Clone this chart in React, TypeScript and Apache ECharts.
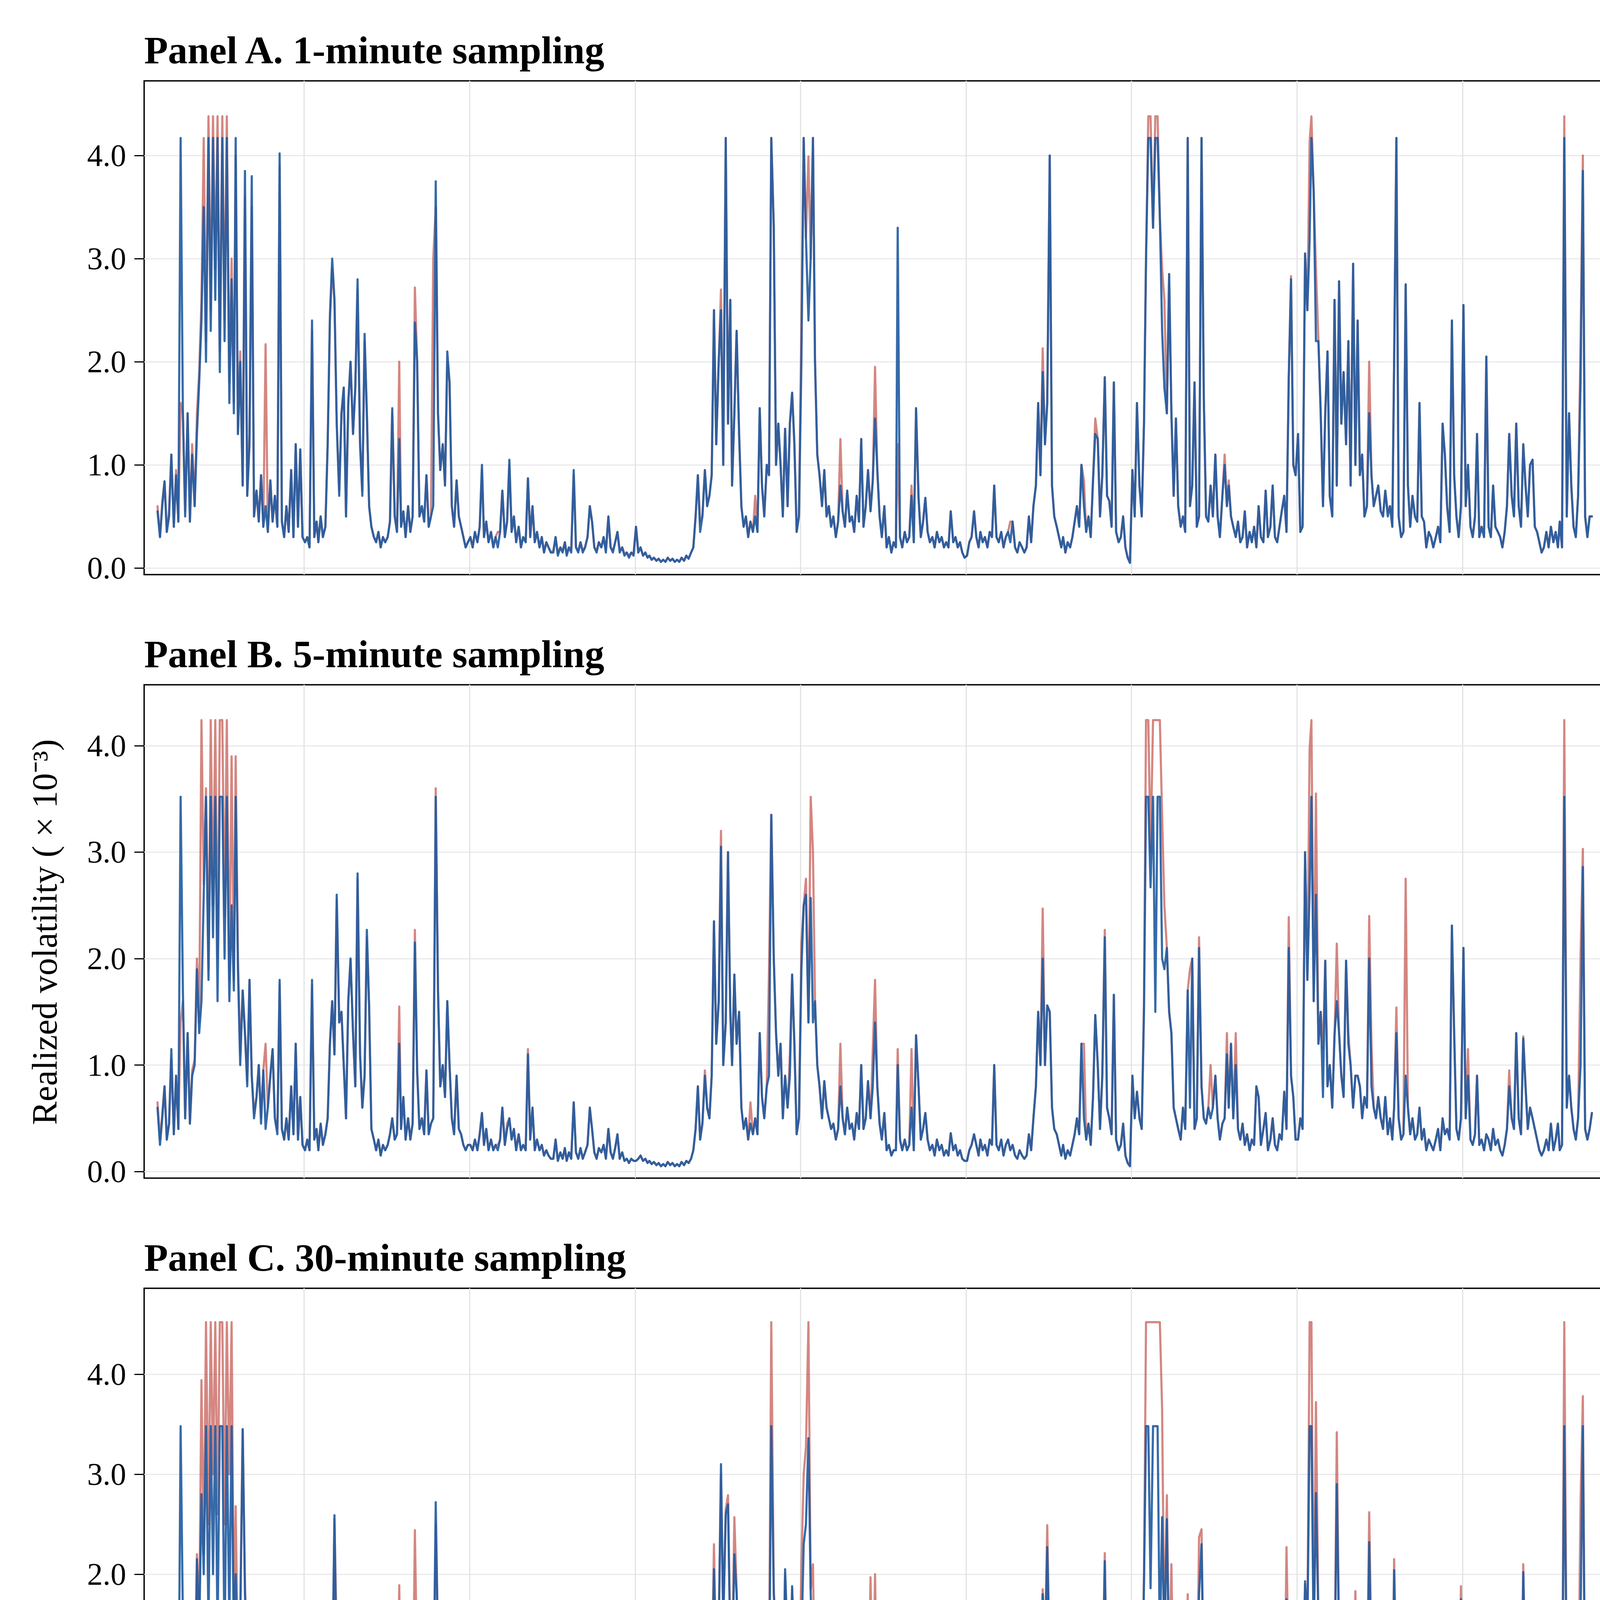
import React, { useEffect, useRef } from "react";
import * as echarts from "echarts";

const DEKAD_DAYS = [5, 15, 25];
const FIRST_YEAR = 2008;
const FIRST_DEKAD = 8; // 25 March 2008

// ---------- Panel A: 1-minute sampling ----------
const etf1m: number[][] = [
  [0.55,0.3,0.6,0.84,0.35,0.5,1.1,0.4,0.9,0.45, 4.17,1.5,0.5,1.5,0.45,1.1,0.6,1.3,1.8,2.4, 3.5,2.0,4.17,2.3,4.17,2.6,4.17,1.9],
  [4.17,2.2,4.17,1.6,2.8,1.5,4.17,1.3,2.0,0.8, 3.85,0.7,1.2,3.8,0.5,0.75,0.45,0.9,0.4,0.6, 0.35,0.85,0.45,0.7,0.4,4.02,0.45,0.3,0.6,0.35, 0.95,0.3,1.2,0.4,1.15,0.3],
  [0.25,0.3,0.2,2.4,0.3,0.45,0.25,0.5,0.3,0.4, 1.2,2.45,3.0,2.6,1.4,0.7,1.5,1.75,0.5,1.6, 2.0,1.3,1.75,2.8,1.2,0.7,2.27,1.5,0.6,0.4, 0.3,0.25,0.35,0.2,0.3,0.25],
  [0.3,0.45,1.55,0.5,0.35,1.25,0.4,0.55,0.3,0.6, 0.35,0.5,2.38,2.0,0.5,0.6,0.45,0.9,0.4,0.5, 0.6,3.75,1.5,0.95,1.2,0.8,2.1,1.8,0.6,0.4, 0.85,0.5,0.4,0.3,0.2,0.25],
  [0.3,0.2,0.35,0.25,0.4,1.0,0.3,0.45,0.25,0.35, 0.2,0.3,0.2,0.35,0.75,0.3,0.45,1.05,0.35,0.5, 0.25,0.4,0.2,0.3,0.25,0.87,0.3,0.6,0.25,0.35, 0.2,0.3,0.15,0.25,0.2,0.15],
  [0.15,0.3,0.12,0.2,0.15,0.25,0.12,0.2,0.15,0.95, 0.2,0.15,0.25,0.15,0.2,0.3,0.6,0.45,0.2,0.15, 0.25,0.2,0.3,0.15,0.5,0.2,0.15,0.25,0.35,0.15, 0.2,0.12,0.15,0.1,0.15,0.12],
  [0.4,0.15,0.2,0.12,0.15,0.1,0.12,0.08,0.1,0.07, 0.09,0.06,0.08,0.06,0.1,0.07,0.09,0.06,0.08,0.06, 0.1,0.07,0.12,0.09,0.15,0.2,0.5,0.9,0.35,0.5, 0.95,0.6,0.7,0.9,2.5,1.2],
  [2.0,2.5,1.0,4.17,1.4,2.6,0.8,1.5,2.3,1.3, 0.6,0.4,0.5,0.3,0.45,0.35,0.5,0.35,1.55,0.8, 0.5,1.0,0.9,4.17,3.3,1.0,1.4,1.0,0.5,1.35, 0.6,1.4,1.7,1.2,0.35,0.5],
  [2.0,4.17,3.2,2.4,3.0,4.17,2.0,1.1,0.9,0.6, 0.95,0.5,0.6,0.4,0.5,0.3,0.45,0.8,0.55,0.4, 0.75,0.45,0.5,0.35,0.7,0.45,1.25,0.4,0.6,0.95, 0.55,0.85,1.45,0.95,0.5,0.3],
  [0.6,0.2,0.3,0.15,0.25,0.2,3.3,0.3,0.2,0.35, 0.25,0.3,0.7,0.25,1.55,0.68,0.3,0.45,0.68,0.35, 0.25,0.3,0.2,0.35,0.25,0.3,0.2,0.25,0.2,0.55, 0.25,0.3,0.2,0.25,0.15,0.1],
  [0.12,0.25,0.3,0.55,0.3,0.2,0.35,0.25,0.3,0.2, 0.35,0.3,0.8,0.3,0.25,0.35,0.2,0.3,0.35,0.25, 0.45,0.2,0.15,0.25,0.2,0.15,0.2,0.5,0.25,0.6, 0.8,1.6,0.9,1.9,1.2,1.6],
  [4.0,0.8,0.5,0.4,0.3,0.2,0.3,0.15,0.25,0.2, 0.3,0.45,0.6,0.4,1.0,0.6,0.35,0.5,0.3,0.85, 1.3,1.25,0.5,0.9,1.85,0.7,0.65,0.4,1.8,0.35, 0.25,0.3,0.5,0.2,0.1,0.05],
  [0.95,0.5,1.6,0.8,0.5,1.4,3.0,4.17,4.17,3.3, 4.17,4.17,3.4,2.3,1.75,1.5,2.85,1.5,0.7,1.45, 0.6,0.4,0.5,0.35,4.17,0.6,0.8,1.8,0.4,0.5, 4.17,1.65,0.5,0.45,0.8,0.5],
  [1.1,0.5,0.3,0.7,1.0,0.6,0.8,0.5,0.4,0.3, 0.45,0.25,0.3,0.55,0.2,0.35,0.25,0.4,0.2,0.6, 0.3,0.25,0.75,0.3,0.4,0.8,0.3,0.25,0.4,0.55, 0.7,0.35,1.85,2.8,1.0,0.9],
  [1.3,0.35,0.4,3.05,2.5,3.18,4.17,3.65,2.2,2.2, 1.5,0.6,1.5,2.1,0.7,0.5,2.6,0.8,2.78,1.4, 1.9,1.2,2.2,0.8,2.95,1.0,2.4,0.9,1.1,0.5, 0.6,1.5,0.9,0.6,0.7,0.8],
  [0.55,0.5,0.75,0.5,0.6,0.4,2.0,4.17,0.5,0.3, 0.35,2.75,0.8,0.4,0.7,0.5,0.45,1.6,0.5,0.45, 0.2,0.35,0.3,0.2,0.3,0.4,0.25,1.4,1.1,0.6, 0.35,2.4,0.9,0.5,0.3,0.6],
  [2.55,0.6,1.0,0.4,0.3,0.5,1.3,0.3,0.4,0.3, 2.05,0.4,0.3,0.8,0.4,0.35,0.3,0.2,0.35,0.6, 1.3,0.7,0.5,1.4,0.6,0.4,1.2,0.8,0.5,1.0, 1.05,0.4,0.35,0.25,0.15,0.2],
  [0.35,0.2,0.4,0.25,0.35,0.2,0.45,0.2,4.17,0.5, 1.5,0.8,0.4,0.3,0.7,1.8,3.85,0.5,0.3,0.5, 0.5],
];
const inav1m: number[][] = [
  [0.6,0.3,0.65,0.84,0.35,0.55,1.1,0.4,0.95,0.45, 1.6,1.5,0.55,1.5,0.45,1.2,0.6,1.5,1.9,2.6, 4.17,2.2,4.38,2.5,4.38,2.9,4.38,2.1],
  [4.38,2.4,4.38,1.8,3.0,1.6,4.0,1.3,2.1,0.8, 3.6,0.7,1.3,3.5,0.5,0.75,0.45,0.9,0.4,2.17, 0.35,0.85,0.45,0.7,0.4,3.9,0.45,0.3,0.6,0.35, 0.95,0.3,1.2,0.4,1.15,0.3],
  [0.25,0.3,0.2,2.3,0.3,0.45,0.25,0.5,0.3,0.4, 1.2,2.4,2.9,2.6,1.4,0.75,1.5,1.75,0.5,1.6, 2.0,1.3,1.75,2.7,1.2,0.75,2.2,1.5,0.6,0.4, 0.3,0.25,0.35,0.2,0.3,0.25],
  [0.3,0.45,1.5,0.5,0.35,2.0,0.4,0.55,0.3,0.6, 0.35,0.5,2.72,2.0,0.5,0.6,0.45,0.9,0.4,0.5, 3.0,3.5,1.5,0.95,1.2,0.8,2.0,1.8,0.6,0.4, 0.85,0.5,0.4,0.3,0.2,0.25],
  [0.3,0.2,0.35,0.25,0.4,0.95,0.3,0.45,0.25,0.35, 0.2,0.3,0.35,0.35,0.75,0.3,0.45,1.0,0.35,0.5, 0.25,0.4,0.2,0.3,0.25,0.87,0.3,0.6,0.25,0.35, 0.2,0.3,0.15,0.25,0.2,0.15],
  [0.17,0.3,0.14,0.2,0.17,0.25,0.14,0.2,0.17,0.9, 0.2,0.17,0.25,0.17,0.2,0.3,0.6,0.45,0.2,0.17, 0.25,0.2,0.3,0.17,0.5,0.2,0.17,0.25,0.35,0.17, 0.2,0.14,0.15,0.12,0.15,0.14],
  [0.4,0.15,0.2,0.12,0.15,0.1,0.12,0.08,0.1,0.07, 0.09,0.06,0.08,0.06,0.1,0.07,0.09,0.06,0.08,0.06, 0.1,0.07,0.12,0.09,0.15,0.2,0.5,0.9,0.45,0.5, 0.95,0.6,0.7,0.9,2.5,1.2],
  [2.0,2.7,1.0,4.17,1.4,2.6,0.8,1.5,2.3,1.3, 0.6,0.4,0.5,0.3,0.45,0.35,0.7,0.35,1.55,0.8, 0.5,1.0,0.9,4.17,3.3,1.0,1.4,1.0,0.5,1.35, 0.6,1.4,1.7,1.2,0.35,0.5],
  [2.4,4.17,3.2,3.99,3.0,4.17,2.0,1.1,0.9,0.6, 0.95,0.5,0.6,0.4,0.5,0.3,0.45,1.25,0.55,0.4, 0.75,0.45,0.5,0.35,0.7,0.45,1.25,0.4,0.6,0.95, 0.55,0.85,1.95,0.95,0.5,0.3],
  [0.6,0.2,0.3,0.15,0.25,0.2,1.2,0.3,0.2,0.35, 0.25,0.3,0.8,0.25,1.55,0.68,0.3,0.45,0.68,0.35, 0.25,0.3,0.2,0.35,0.25,0.3,0.2,0.25,0.2,0.55, 0.25,0.3,0.2,0.25,0.15,0.1],
  [0.12,0.25,0.3,0.55,0.3,0.2,0.35,0.25,0.3,0.2, 0.35,0.3,0.8,0.3,0.25,0.35,0.2,0.3,0.35,0.45, 0.45,0.2,0.15,0.25,0.2,0.15,0.2,0.5,0.25,0.6, 0.8,1.6,0.9,2.13,1.2,1.6],
  [4.0,0.8,0.5,0.4,0.3,0.2,0.3,0.15,0.25,0.2, 0.3,0.45,0.6,0.4,1.0,0.85,0.35,0.5,0.3,0.85, 1.45,1.25,0.5,0.9,1.85,0.7,0.65,0.4,1.8,0.35, 0.25,0.3,0.5,0.2,0.1,0.05],
  [0.95,0.5,1.6,0.8,0.5,1.4,3.0,4.38,4.38,3.3, 4.38,4.38,3.4,2.9,2.6,1.5,2.85,1.5,0.7,1.45, 0.6,0.4,0.5,0.35,4.17,0.6,0.8,1.8,0.4,0.5, 4.17,1.65,0.5,0.45,0.8,0.5],
  [1.1,0.5,0.3,0.7,1.1,0.6,0.85,0.5,0.4,0.3, 0.45,0.25,0.3,0.55,0.2,0.35,0.25,0.4,0.2,0.6, 0.3,0.25,0.75,0.3,0.4,0.8,0.3,0.25,0.4,0.55, 0.7,0.35,1.85,2.83,1.0,0.9],
  [1.3,0.35,0.4,3.05,2.5,4.13,4.38,3.65,2.9,2.2, 1.5,0.6,1.5,2.1,0.7,0.5,2.6,0.8,2.78,1.4, 1.9,1.2,2.2,0.8,2.95,1.0,2.4,0.9,1.1,0.5, 0.6,2.0,0.9,0.6,0.7,0.8],
  [0.55,0.5,0.75,0.55,0.6,0.4,2.0,4.17,0.5,0.3, 0.35,2.75,0.8,0.4,0.7,0.5,0.45,1.6,0.5,0.45, 0.2,0.35,0.3,0.2,0.3,0.4,0.25,1.4,1.1,0.6, 0.35,2.4,0.9,0.5,0.3,0.6],
  [2.55,0.6,1.0,0.4,0.3,0.5,1.3,0.3,0.4,0.3, 2.05,0.4,0.3,0.8,0.4,0.35,0.3,0.2,0.35,0.6, 1.3,0.7,0.5,1.4,0.6,0.4,1.2,0.8,0.5,1.0, 1.05,0.4,0.35,0.25,0.15,0.2],
  [0.35,0.2,0.4,0.25,0.35,0.2,0.45,0.2,4.38,0.5, 1.5,0.8,0.4,0.3,0.7,2.2,4.0,0.5,0.3,0.5, 0.5],
];

// ---------- Panel B: 5-minute sampling ----------
const etf5m: number[][] = [
  [0.6,0.25,0.5,0.8,0.3,0.45,1.15,0.35,0.9,0.4, 3.52,1.7,0.5,1.3,0.45,0.9,1.0,1.9,1.3,1.6, 2.6,3.52,1.8,3.52,2.2,3.52,1.6,3.52],
  [3.52,2.0,3.52,1.6,2.5,1.7,3.52,1.9,1.0,1.7, 1.3,0.8,1.8,0.9,0.5,0.7,1.0,0.45,0.95,0.4, 0.6,0.9,1.15,0.5,0.35,1.8,0.4,0.3,0.5,0.3, 0.8,0.35,1.2,0.3,0.7,0.25],
  [0.2,0.3,0.2,1.8,0.3,0.4,0.2,0.45,0.25,0.35, 0.5,1.2,1.6,1.1,2.6,1.4,1.5,1.0,0.5,1.6, 2.0,1.3,0.8,2.8,1.1,0.6,0.9,2.27,1.55,0.4, 0.3,0.2,0.3,0.15,0.25,0.2],
  [0.25,0.35,0.5,0.3,0.35,1.2,0.4,0.7,0.3,0.5, 0.3,0.45,2.15,0.95,0.4,0.5,0.35,0.95,0.35,0.45, 0.5,3.52,1.7,0.8,1.0,0.7,1.6,1.0,0.5,0.35, 0.9,0.4,0.35,0.25,0.2,0.25],
  [0.25,0.2,0.3,0.2,0.35,0.55,0.25,0.4,0.2,0.3, 0.2,0.25,0.2,0.3,0.6,0.25,0.4,0.5,0.3,0.4, 0.2,0.35,0.2,0.25,0.2,1.1,0.3,0.6,0.2,0.3, 0.2,0.25,0.15,0.2,0.15,0.12],
  [0.12,0.3,0.1,0.18,0.12,0.22,0.1,0.18,0.12,0.65, 0.18,0.12,0.22,0.12,0.18,0.25,0.6,0.4,0.18,0.12, 0.22,0.18,0.25,0.12,0.4,0.18,0.12,0.22,0.35,0.12, 0.18,0.1,0.12,0.08,0.12,0.1],
  [0.1,0.12,0.15,0.1,0.12,0.08,0.1,0.07,0.09,0.06, 0.08,0.05,0.07,0.05,0.09,0.06,0.08,0.05,0.07,0.05, 0.09,0.06,0.1,0.08,0.12,0.2,0.4,0.8,0.3,0.45, 0.9,0.6,0.5,0.9,2.35,1.2],
  [1.6,3.05,1.0,1.4,3.0,1.5,1.0,1.85,1.2,1.5, 0.6,0.4,0.5,0.3,0.45,0.35,0.5,0.35,1.3,0.7, 0.5,0.8,0.9,3.35,2.0,1.3,0.9,1.2,0.5,0.9, 0.6,0.9,1.85,1.2,0.35,0.5],
  [1.9,2.5,2.6,1.4,2.57,1.4,1.6,1.0,0.8,0.5, 0.85,0.6,0.5,0.4,0.45,0.3,0.4,0.8,0.5,0.35, 0.6,0.4,0.45,0.3,0.55,0.4,1.0,0.4,0.5,0.85, 0.5,0.8,1.4,0.8,0.45,0.3],
  [0.55,0.2,0.25,0.15,0.2,0.2,1.0,0.3,0.2,0.3, 0.2,0.25,0.6,0.2,1.28,0.8,0.3,0.4,0.55,0.3, 0.2,0.25,0.15,0.3,0.2,0.25,0.15,0.2,0.15,0.36, 0.2,0.25,0.15,0.2,0.12,0.1],
  [0.1,0.2,0.25,0.35,0.25,0.15,0.3,0.2,0.25,0.15, 0.3,0.25,1.0,0.25,0.2,0.3,0.15,0.25,0.3,0.2, 0.25,0.15,0.12,0.2,0.15,0.12,0.15,0.35,0.2,0.5, 0.8,1.5,1.0,2.0,1.0,1.56],
  [1.5,0.6,0.4,0.35,0.25,0.15,0.25,0.12,0.2,0.15, 0.25,0.35,0.5,0.35,1.2,0.5,0.3,0.45,0.25,0.7, 1.47,1.0,0.4,0.9,2.2,0.6,0.5,0.35,1.66,0.3, 0.2,0.25,0.45,0.15,0.08,0.05],
  [0.9,0.5,0.75,0.5,0.4,1.5,3.52,3.52,2.67,3.52, 1.5,3.52,3.52,2.0,1.9,2.1,1.5,1.3,0.6,0.5, 0.4,0.3,0.6,0.4,1.7,0.6,2.0,0.4,0.5,2.1, 0.8,0.5,0.45,0.6,0.5,0.6],
  [0.9,0.5,0.3,0.45,0.5,1.1,0.6,1.2,0.5,1.0, 0.4,0.3,0.45,0.25,0.35,0.2,0.3,0.25,0.8,0.7, 0.25,0.4,0.55,0.2,0.3,0.5,0.25,0.2,0.35,0.3, 0.75,0.4,2.1,0.9,0.7,0.3],
  [0.3,0.5,0.4,3.0,1.8,2.63,3.52,1.6,2.6,1.2, 1.5,0.7,1.98,0.8,1.0,0.6,1.28,1.6,1.3,0.9, 0.7,1.98,1.2,1.0,0.6,0.9,0.9,0.8,0.5,0.7, 0.6,2.0,0.8,0.6,0.5,0.7],
  [0.5,0.4,0.7,0.35,0.5,0.3,0.6,1.3,0.5,0.3, 0.35,0.9,0.6,0.35,0.5,0.3,0.35,0.6,0.3,0.4, 0.2,0.3,0.25,0.2,0.3,0.4,0.2,0.5,0.35,0.4, 0.3,2.31,1.3,0.4,0.3,0.5],
  [2.1,0.5,0.9,0.3,0.25,0.35,0.9,0.25,0.3,0.2, 0.35,0.3,0.2,0.4,0.25,0.3,0.2,0.15,0.25,0.4, 0.8,0.5,0.4,1.3,0.5,0.35,1.25,0.8,0.4,0.6, 0.5,0.4,0.3,0.2,0.15,0.2],
  [0.3,0.2,0.45,0.2,0.3,0.45,0.2,0.25,3.52,0.6, 0.9,0.6,0.4,0.3,0.5,1.0,2.86,0.4,0.3,0.4, 0.55],
];
const inav5m: number[][] = [
  [0.65,0.3,0.55,0.8,0.3,0.45,1.05,0.35,0.9,0.4, 1.4,1.6,0.5,1.3,0.45,0.95,1.05,2.0,1.4,4.24, 2.7,3.6,1.9,4.24,2.5,4.24,2.0,4.24],
  [4.24,2.4,4.24,1.8,3.9,1.8,3.9,2.0,1.1,1.7, 1.3,0.85,1.8,0.9,0.55,0.7,1.0,0.5,0.95,1.2, 0.6,0.9,1.15,0.5,0.4,1.75,0.4,0.3,0.5,0.3, 0.8,0.35,1.2,0.3,0.7,0.25],
  [0.2,0.3,0.2,1.75,0.3,0.4,0.2,0.45,0.25,0.35, 0.5,1.2,1.6,1.1,2.55,1.4,1.5,1.0,0.5,1.6, 2.0,1.3,0.8,2.75,1.1,0.6,0.9,2.2,1.55,0.4, 0.3,0.2,0.3,0.15,0.25,0.2],
  [0.25,0.35,0.5,0.3,0.35,1.55,0.4,0.7,0.3,0.5, 0.3,0.45,2.27,0.95,0.4,0.5,0.35,0.95,0.35,0.45, 0.5,3.6,1.7,0.8,1.0,0.7,1.6,1.0,0.5,0.35, 0.9,0.4,0.35,0.25,0.2,0.25],
  [0.25,0.2,0.3,0.2,0.35,0.55,0.25,0.4,0.2,0.3, 0.2,0.25,0.25,0.3,0.6,0.25,0.45,0.5,0.3,0.4, 0.2,0.35,0.2,0.25,0.2,1.15,0.3,0.6,0.2,0.3, 0.2,0.25,0.15,0.2,0.15,0.12],
  [0.12,0.3,0.1,0.18,0.12,0.22,0.1,0.18,0.12,0.65, 0.18,0.12,0.22,0.12,0.18,0.25,0.6,0.4,0.18,0.12, 0.22,0.18,0.25,0.12,0.4,0.18,0.12,0.22,0.35,0.12, 0.18,0.1,0.12,0.08,0.12,0.1],
  [0.1,0.12,0.15,0.1,0.12,0.08,0.1,0.07,0.09,0.06, 0.08,0.05,0.07,0.05,0.09,0.06,0.08,0.05,0.07,0.05, 0.09,0.06,0.1,0.08,0.12,0.2,0.4,0.8,0.3,0.45, 0.95,0.6,0.5,0.9,2.35,1.2],
  [1.6,3.2,1.0,1.4,3.0,1.5,1.0,1.85,1.2,1.5, 0.6,0.4,0.5,0.3,0.65,0.35,0.5,0.35,1.3,0.7, 0.5,0.8,1.9,3.35,2.0,1.3,0.9,1.2,0.5,0.9, 0.6,1.1,1.85,1.2,0.35,0.5],
  [2.15,2.5,2.75,1.4,3.52,3.0,1.6,1.0,0.8,0.5, 0.85,0.6,0.5,0.4,0.45,0.3,0.4,1.2,0.5,0.35, 0.6,0.4,0.45,0.3,0.55,0.4,1.0,0.4,0.5,0.85, 0.5,1.15,1.8,0.8,0.45,0.3],
  [0.55,0.2,0.25,0.15,0.2,0.2,1.15,0.3,0.2,0.3, 0.2,0.25,1.15,0.2,1.28,0.8,0.3,0.4,0.55,0.3, 0.2,0.25,0.15,0.3,0.2,0.25,0.15,0.2,0.15,0.36, 0.2,0.25,0.15,0.2,0.12,0.1],
  [0.1,0.2,0.25,0.35,0.25,0.15,0.3,0.2,0.25,0.15, 0.3,0.25,1.0,0.25,0.2,0.3,0.15,0.25,0.3,0.2, 0.25,0.15,0.12,0.2,0.15,0.12,0.15,0.35,0.2,0.5, 0.8,1.5,1.0,2.47,1.0,1.56],
  [1.5,0.6,0.4,0.35,0.25,0.15,0.25,0.12,0.2,0.15, 0.25,0.35,0.5,0.35,1.2,1.2,0.3,0.45,0.25,0.7, 1.47,1.0,0.4,0.9,2.27,0.6,0.5,0.35,1.66,0.3, 0.2,0.25,0.45,0.15,0.08,0.05],
  [0.9,0.5,0.75,0.5,0.4,1.6,4.24,4.24,3.0,4.24, 4.24,4.24,4.24,3.34,2.5,2.1,1.5,1.3,0.6,0.5, 0.4,0.3,0.6,0.4,1.7,1.9,2.0,0.4,0.5,2.2, 0.8,0.5,0.45,0.6,1.0,0.6],
  [0.9,0.5,0.3,0.45,0.5,1.3,0.6,1.2,0.5,1.3, 0.4,0.3,0.45,0.25,0.35,0.2,0.3,0.25,0.8,0.7, 0.25,0.4,0.55,0.2,0.3,0.5,0.25,0.2,0.35,0.3, 0.75,0.4,2.39,0.9,0.7,0.3],
  [0.3,0.5,0.4,3.0,1.8,3.97,4.24,1.6,3.55,1.2, 1.5,1.15,1.98,0.8,1.0,0.6,1.28,2.14,1.3,0.9, 0.7,1.98,1.3,1.0,0.6,0.9,0.9,0.8,0.5,0.7, 0.6,2.4,1.2,0.6,0.5,0.7],
  [0.5,0.4,0.7,0.35,0.5,0.3,0.6,1.54,0.5,0.3, 0.35,2.75,0.6,0.35,0.5,0.3,0.35,0.6,0.3,0.4, 0.2,0.3,0.25,0.2,0.3,0.4,0.2,0.5,0.35,0.4, 0.3,2.31,1.3,0.4,0.3,0.5],
  [2.1,0.5,1.15,0.3,0.25,0.35,0.9,0.25,0.3,0.2, 0.35,0.3,0.2,0.4,0.25,0.3,0.2,0.15,0.25,0.4, 0.95,0.5,0.4,1.3,0.5,0.35,1.27,0.8,0.4,0.6, 0.5,0.4,0.3,0.2,0.15,0.2],
  [0.3,0.2,0.45,0.2,0.3,0.45,0.2,0.25,4.24,0.6, 0.9,0.6,0.4,0.3,0.5,2.05,3.03,0.4,0.3,0.4, 0.55],
];

// ---------- Panel C: 30-minute sampling ----------
const etf30m: number[][] = [
  [1.15,0.2,0.5,0.3,0.6,0.25,0.93,0.4,1.0,0.3, 3.48,1.55,0.5,1.45,0.4,1.0,0.6,2.15,1.4,2.8, 2.0,3.48,1.5,3.48,2.0,3.48,1.4,3.48],
  [3.48,1.2,3.48,1.5,3.48,1.3,2.0,1.0,1.5,3.45, 1.8,1.0,0.9,0.5,0.7,0.35,0.6,0.3,0.55,0.25, 0.7,0.3,0.5,0.25,0.6,0.45,0.3,0.5,0.25,0.6, 0.3,0.5,0.25,0.55,0.3,0.4],
  [0.2,0.3,0.15,1.47,0.25,0.5,0.2,0.6,0.25,0.5, 0.3,1.26,0.8,2.59,0.9,0.5,1.0,0.6,1.53,0.5, 1.0,0.4,0.8,1.45,0.5,0.6,0.4,1.58,1.6,0.3, 0.25,0.2,0.3,0.15,0.25,0.2],
  [0.2,0.3,0.5,0.25,0.3,0.8,0.35,0.7,0.25,0.45, 0.3,0.4,1.53,0.95,0.35,0.45,0.3,0.7,0.3,0.4, 0.5,2.72,1.25,0.6,0.8,0.5,1.5,1.0,0.4,0.3, 0.9,0.35,0.3,0.2,0.15,0.2],
  [0.6,0.15,0.3,0.2,0.35,0.55,0.2,0.35,0.15,0.3, 0.15,0.25,0.15,0.3,0.4,0.2,0.35,0.82,0.25,0.4, 0.15,0.3,0.15,0.25,0.2,0.45,0.2,0.35,0.15,0.3, 0.15,0.25,0.1,0.2,0.15,0.1],
  [0.1,0.25,0.08,0.15,0.1,0.2,0.08,0.15,0.1,0.35, 0.15,0.1,0.2,0.1,0.15,0.2,0.68,0.3,0.15,0.1, 0.2,0.15,0.25,0.1,0.3,0.15,0.1,0.2,0.4,0.1, 0.15,0.08,0.1,0.06,0.1,0.08],
  [0.25,0.1,0.15,0.08,0.12,0.07,0.1,0.05,0.08,0.05, 0.07,0.04,0.06,0.04,0.08,0.05,0.07,0.04,0.06,0.05, 0.08,0.05,0.1,0.07,0.12,0.2,0.35,0.7,0.3,0.4, 0.5,0.6,0.4,0.8,2.05,1.0],
  [1.4,3.1,1.5,2.6,2.7,1.3,1.0,2.2,1.8,1.0, 0.6,0.35,0.5,0.3,0.45,0.35,0.6,0.4,1.63,0.8, 1.0,0.9,0.7,3.48,1.8,1.3,0.8,1.47,0.6,2.05, 1.3,0.7,1.88,1.1,0.3,0.5],
  [1.3,2.3,2.5,3.36,1.8,1.0,0.6,0.8,0.4,0.7, 0.5,0.35,1.15,0.5,0.4,0.3,0.9,0.45,0.35,0.5, 0.3,0.45,0.35,0.9,0.4,0.6,1.0,0.4,0.5,0.35, 1.4,0.6,1.25,0.5,0.3,0.25],
  [0.8,0.15,0.25,0.1,0.2,0.15,0.93,0.25,0.15,0.3, 0.2,0.25,0.6,0.2,1.11,1.0,0.35,0.93,0.7,0.3, 0.2,0.25,0.15,0.3,0.2,0.25,0.15,0.2,0.15,0.4, 0.2,0.25,0.12,0.2,0.1,0.08],
  [0.08,0.2,0.25,0.4,0.2,0.15,0.5,0.2,0.25,0.15, 0.3,0.2,0.8,0.25,0.2,0.4,0.15,0.25,0.3,0.2, 0.25,0.4,0.12,0.2,0.15,0.1,0.15,0.3,0.5,0.4, 1.3,1.7,1.0,1.8,1.2,2.27],
  [1.0,0.6,0.35,0.3,0.2,0.15,0.25,0.1,0.2,0.15, 0.2,0.4,0.3,0.5,1.22,0.8,0.3,0.5,0.25,0.6, 1.34,1.31,0.4,0.7,2.13,0.6,0.4,0.3,0.93,0.5, 0.25,0.3,0.95,0.3,0.1,0.05],
  [0.6,0.85,0.4,0.3,0.5,1.91,3.48,3.48,1.86,3.48, 3.48,3.48,1.25,2.57,1.3,2.55,1.0,1.3,0.6,0.4, 0.3,0.25,0.4,0.3,1.35,0.6,0.9,0.4,0.5,1.8, 2.3,0.8,0.5,0.4,0.7,0.5],
  [0.5,0.6,0.3,0.4,1.0,1.26,0.5,1.2,0.9,1.26, 0.5,0.3,0.6,0.25,0.4,0.2,0.35,0.3,1.35,0.8, 0.3,0.25,0.6,0.2,0.3,0.5,0.25,0.2,0.3,0.4, 0.3,1.75,0.9,0.4,0.7,0.2],
  [0.3,0.4,0.5,1.93,1.4,3.48,3.48,1.3,2.81,1.5, 1.2,0.9,1.0,0.8,1.0,0.6,0.9,2.9,1.3,0.9, 1.3,1.0,0.8,1.0,0.7,1.2,0.6,1.0,0.5,0.7, 0.6,2.32,0.9,0.8,0.6,0.7],
  [0.4,0.3,0.9,0.3,0.45,0.25,2.04,0.8,0.3,0.25, 0.3,0.8,0.35,0.3,1.0,0.5,0.3,0.5,0.25,0.35, 0.2,0.3,0.2,0.15,0.25,0.35,0.2,0.6,0.4,0.3, 0.25,1.3,1.0,0.35,0.25,1.75],
  [0.3,0.2,0.5,0.2,0.15,0.3,0.4,0.15,0.2,0.15, 0.55,0.2,0.15,0.3,0.2,0.25,0.15,0.1,0.2,0.3, 0.45,0.3,0.25,0.5,1.2,0.3,2.02,0.8,0.3,0.4, 0.35,0.3,0.2,0.15,0.1,0.15],
  [0.25,0.15,1.04,0.2,0.3,0.5,0.2,0.3,3.48,0.8, 0.5,1.42,0.8,0.3,0.5,1.58,3.48,0.5,0.3,0.4, 0.6],
];
const inav30m: number[][] = [
  [1.26,0.25,0.55,0.3,0.65,0.3,0.95,0.45,1.47,0.35, 1.2,1.5,0.55,1.4,0.45,1.05,0.65,2.2,1.5,3.94, 2.2,4.52,2.5,4.52,3.0,4.52,2.6,4.52],
  [4.52,2.5,4.52,3.0,4.52,1.5,2.68,1.1,1.6,3.45, 1.9,1.1,1.0,0.55,0.95,0.4,0.65,0.35,0.95,0.3, 0.75,0.35,0.95,0.3,0.65,0.5,0.35,0.95,0.3,0.65, 0.35,0.55,0.3,0.6,0.35,0.45],
  [0.25,0.35,0.2,1.45,0.3,0.55,0.25,0.65,0.3,0.55, 0.35,1.3,0.85,2.55,1.35,0.55,1.05,0.65,1.5,0.55, 1.05,0.45,0.85,1.4,0.55,0.65,0.45,1.55,1.55,0.35, 0.3,0.25,0.35,0.2,0.3,0.25],
  [0.25,0.35,0.55,0.3,0.35,1.89,0.4,0.75,0.3,0.5, 0.35,0.45,2.44,1.0,0.4,0.5,0.35,0.75,0.35,0.45, 0.55,2.5,1.3,0.65,0.85,0.55,1.45,1.05,0.45,0.35, 0.85,0.4,0.35,0.25,0.2,0.25],
  [0.55,0.2,0.35,0.25,0.4,0.5,0.25,0.4,0.2,0.35, 0.2,0.3,0.2,0.35,0.45,0.25,0.4,0.8,0.3,0.45, 0.2,0.35,0.2,0.3,0.25,0.5,0.25,0.4,0.2,0.35, 0.2,0.3,0.15,0.25,0.2,0.15],
  [0.12,0.28,0.1,0.17,0.12,0.22,0.1,0.17,0.12,0.33, 0.17,0.12,0.22,0.12,0.17,0.22,0.65,0.32,0.17,0.12, 0.22,0.17,0.27,0.12,0.32,0.17,0.12,0.22,0.38,0.12, 0.17,0.1,0.12,0.08,0.12,0.1],
  [0.22,0.12,0.17,0.1,0.14,0.09,0.12,0.07,0.1,0.07, 0.09,0.06,0.08,0.06,0.1,0.07,0.09,0.06,0.08,0.07, 0.1,0.07,0.12,0.09,0.14,0.22,0.38,1.09,0.35,0.45, 0.55,0.65,0.45,0.85,2.3,1.05],
  [1.45,3.0,1.55,2.65,2.79,1.35,1.05,2.57,1.85,1.05, 0.65,0.4,0.55,0.35,0.95,0.4,0.65,0.45,1.6,0.85, 1.05,0.95,1.0,4.52,1.85,1.35,0.85,1.45,0.65,2.0, 1.35,0.75,1.85,1.15,0.35,0.55],
  [2.1,3.0,3.27,4.52,1.85,2.1,0.65,0.85,0.45,0.75, 0.55,0.4,1.66,0.55,0.45,0.35,1.25,0.5,0.4,0.55, 0.35,0.5,0.4,0.95,0.45,0.65,1.05,0.45,0.55,0.4, 1.97,0.65,2.0,0.55,0.35,0.3],
  [0.75,0.2,0.3,0.15,0.25,0.2,1.09,0.3,0.2,0.35, 0.25,0.3,1.67,0.25,1.1,0.95,0.4,0.9,0.75,0.35, 0.25,0.3,0.2,0.35,0.25,0.3,0.2,0.25,0.2,0.38, 0.25,0.3,0.15,0.25,0.12,0.1],
  [0.1,0.25,0.3,0.45,0.25,0.2,0.8,0.25,0.3,0.2, 0.35,0.25,0.85,0.3,0.25,0.45,0.2,0.3,0.35,0.25, 0.3,0.65,0.15,0.25,0.2,0.12,0.2,0.35,0.55,0.45, 1.35,1.65,1.05,1.85,1.25,2.49],
  [1.05,0.65,0.4,0.35,0.25,0.2,0.3,0.15,0.25,0.2, 0.25,0.45,0.35,0.55,1.2,0.85,0.8,0.55,0.3,0.65, 1.42,1.3,0.45,0.75,2.21,0.65,0.45,0.35,0.9,0.55, 0.3,0.35,0.9,0.35,0.15,0.08],
  [1.05,0.9,0.45,0.35,0.55,2.0,4.52,4.52,4.52,4.52, 4.52,4.52,4.52,3.65,1.35,2.79,1.05,2.1,0.65,0.45, 0.35,0.3,0.45,0.35,1.8,0.65,0.95,0.45,0.55,2.37, 2.45,0.85,0.55,0.45,0.75,0.55],
  [1.1,0.65,0.35,0.45,1.05,1.59,0.55,1.25,0.95,1.53, 0.95,0.35,0.65,0.3,0.45,0.25,0.4,0.35,1.64,0.85, 0.35,0.3,0.65,0.25,0.35,0.55,0.3,0.25,0.35,0.8, 0.35,2.27,0.95,0.45,1.25,0.25],
  [0.35,0.45,0.55,1.9,1.45,4.52,4.52,1.35,3.72,1.55, 1.6,0.95,1.05,0.85,1.35,0.65,0.95,3.42,1.35,1.2, 1.35,1.5,0.85,1.1,0.75,1.83,0.65,1.05,0.55,0.75, 0.65,2.62,1.2,0.85,0.65,0.75],
  [0.45,0.35,0.95,0.35,0.5,0.3,2.15,0.85,0.35,0.3, 0.35,0.85,0.4,0.35,1.36,0.55,0.35,0.55,0.3,0.4, 0.25,0.35,0.25,0.2,0.3,0.4,0.25,0.65,0.45,0.35, 0.3,1.47,1.05,0.4,0.3,1.88],
  [0.35,0.25,0.55,0.25,0.2,0.35,0.45,0.2,0.25,0.2, 0.6,0.25,0.2,0.35,0.25,0.3,0.2,0.15,0.25,0.35, 0.5,0.35,0.3,0.55,1.25,0.35,2.1,0.85,0.35,0.45, 0.4,0.35,0.25,0.2,0.15,0.2],
  [0.3,0.2,1.0,0.25,0.35,0.55,0.25,0.35,4.52,0.85, 0.55,1.45,0.85,0.35,0.55,2.74,3.78,0.55,0.35,0.45, 0.65],
];

// Axis ticks and labels
const yearTicks = [2010, 2012, 2014, 2016, 2018, 2020, 2022, 2024];
const yTicks = [0, 1, 2, 3, 4];
const panelTitles = ["Panel A. 1-minute sampling", "Panel B. 5-minute sampling", "Panel C. 30-minute sampling"];
const seriesNames = ["ETF (USO)", "iNAV (CL)"];
const yTitle = "Realized volatility ( \u00d7 10\u207b\u00b3)";

const FONT = '"Liberation Serif", "Times New Roman", Times, serif';
const BLUE = "#1F5AA0";
const RED = "#B2271F";

function toSeries(rows: number[][]): [number, number][] {
  const out: [number, number][] = [];
  rows.forEach((vals, yi) => {
    const year = FIRST_YEAR + yi;
    const offset = yi === 0 ? FIRST_DEKAD : 0;
    vals.forEach((v, j) => {
      const k = offset + j;
      out.push([Date.UTC(year, Math.floor(k / 3), DEKAD_DAYS[k % 3]), v]);
    });
  });
  return out;
}

const PLOT_LEFT = 369;
const PLOT_WIDTH = 3744;
const panels = [
  { etf: etf1m, inav: inav1m, top: 207, height: 1264, yMin: -0.064, yMax: 4.724 },
  { etf: etf5m, inav: inav5m, top: 1753, height: 1263, yMin: -0.062, yMax: 4.572 },
  { etf: etf30m, inav: inav30m, top: 3298, height: 1263, yMin: -0.074, yMax: 4.859 },
];

export default function App() {
  const ref = useRef<HTMLDivElement>(null);
  useEffect(() => {
    document.body.style.margin = "0";
    if (!ref.current) return;
    const chart = echarts.init(ref.current, undefined, { renderer: "svg" });
    const xTickValues = yearTicks.map((y) => Date.UTC(y, 0, 1));
    const xMin = Date.UTC(2008, 0, 26);
    const xMax = Date.UTC(2025, 8, 28);

    const grid = panels.map((p) => ({
      left: PLOT_LEFT,
      top: p.top,
      width: PLOT_WIDTH,
      height: p.height,
      show: true,
      borderColor: "#000",
      borderWidth: 3.5,
      backgroundColor: "transparent",
      containLabel: false,
    }));

    // value axis holding UTC timestamps (ticks only at the even years)
    const xAxis = panels.map((p, i) => ({
      type: "value",
      gridIndex: i,
      min: xMin,
      max: xMax,
      axisLine: { show: false },
      axisTick: {
        show: i === 2,
        customValues: xTickValues,
        length: 24,
        inside: false,
        lineStyle: { color: "#000", width: 3 },
      },
      axisLabel: {
        show: i === 2,
        customValues: xTickValues,
        formatter: (v: number) => String(new Date(v).getUTCFullYear()),
        fontFamily: FONT,
        fontSize: 80,
        color: "#000",
        margin: 33,
      },
      splitLine: { show: true, lineStyle: { color: "#e3e3e3", width: 3 } },
    }));

    const yAxis = panels.map((p, i) => ({
      type: "value",
      gridIndex: i,
      min: p.yMin,
      max: p.yMax,
      axisLine: { show: false },
      axisTick: {
        show: true,
        customValues: yTicks,
        length: 25,
        inside: false,
        lineStyle: { color: "#000", width: 3 },
      },
      axisLabel: {
        customValues: yTicks,
        formatter: (v: number) => v.toFixed(1),
        fontFamily: FONT,
        fontSize: 80,
        color: "#000",
        margin: 46,
      },
      splitLine: { show: true, lineStyle: { color: "#e6e6e6", width: 2.5 } },
    }));

    const series: any[] = [];
    panels.forEach((p, i) => {
      series.push({
        name: seriesNames[1],
        type: "line",
        xAxisIndex: i,
        yAxisIndex: i,
        data: toSeries(p.inav),
        symbol: "none",
        showSymbol: false,
        silent: true,
        z: 2,
        color: RED,
        lineStyle: { color: RED, width: 5.5, opacity: 0.56, join: "round", cap: "round" },
      });
      series.push({
        name: seriesNames[0],
        type: "line",
        xAxisIndex: i,
        yAxisIndex: i,
        data: toSeries(p.etf),
        symbol: "none",
        showSymbol: false,
        silent: true,
        z: 3,
        color: BLUE,
        lineStyle: { color: BLUE, width: 5.5, opacity: 0.9, join: "round", cap: "round" },
      });
    });

    const titleBaselines = [162, 1708, 3253];
    const graphic: any[] = [];
    panelTitles.forEach((t, i) => {
      graphic.push({
        type: "text",
        x: PLOT_LEFT,
        y: titleBaselines[i] - 34,
        style: {
          text: t,
          fontFamily: FONT,
          fontSize: 100,
          fontWeight: "bold",
          fill: "#000",
          textAlign: "left",
          textVerticalAlign: "middle",
        },
      });
    });
    graphic.push({
      type: "text",
      x: 114,
      y: 2386,
      rotation: Math.PI / 2,
      style: {
        text: yTitle,
        fontFamily: FONT,
        fontSize: 90,
        fill: "#000",
        textAlign: "center",
        textVerticalAlign: "middle",
      },
    });
    // legend
    graphic.push({ type: "rect", shape: { x: 1405, y: 4823, width: 302, height: 19 }, style: { fill: BLUE } });
    graphic.push({
      type: "text",
      x: 1791,
      y: 4833,
      style: { text: seriesNames[0], fontFamily: FONT, fontSize: 90, fill: "#000", textAlign: "left", textVerticalAlign: "middle" },
    });
    graphic.push({ type: "rect", shape: { x: 2306, y: 4823, width: 302, height: 19 }, style: { fill: RED } });
    graphic.push({
      type: "text",
      x: 2693,
      y: 4833,
      style: { text: seriesNames[1], fontFamily: FONT, fontSize: 90, fill: "#000", textAlign: "left", textVerticalAlign: "middle" },
    });

    chart.setOption({
      animation: false,
      backgroundColor: "#fff",
      grid,
      xAxis,
      yAxis,
      series,
      graphic,
    } as any);
    return () => chart.dispose();
  }, []);
  return <div ref={ref} style={{ width: 4200, height: 4920 }} />;
}
